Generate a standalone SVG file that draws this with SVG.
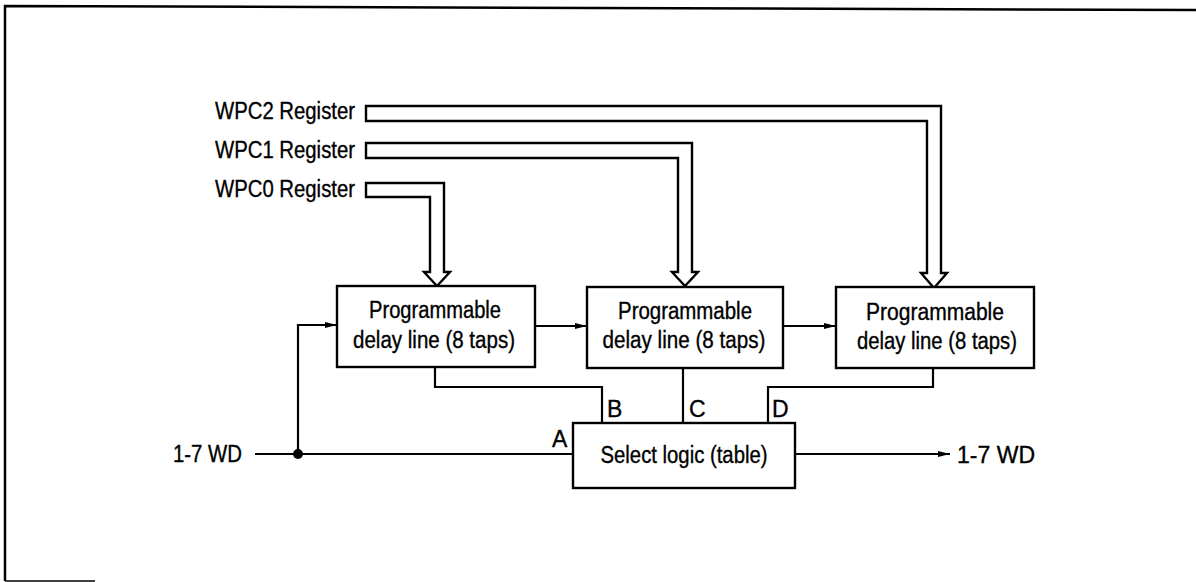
<svg xmlns="http://www.w3.org/2000/svg" width="1196" height="582" viewBox="0 0 1196 582">
<style>
  .box{fill:#fff;stroke:#000;stroke-width:2.4}
  .bus{fill:#fff;stroke:#000;stroke-width:2.4;stroke-linejoin:miter}
  .wire{fill:none;stroke:#000;stroke-width:2.2}
  text{font-family:"Liberation Sans",Arial,sans-serif;font-size:23px;fill:#000;stroke:#000;stroke-width:0.35}
  .mid{text-anchor:middle}
</style>
<defs>
  <marker id="arr" viewBox="0 0 12 8" refX="12" refY="4" markerWidth="12" markerHeight="8" markerUnits="userSpaceOnUse" orient="auto">
    <path d="M0,1 L12,4 L0,7 Z" fill="#000"/>
  </marker>
</defs>
<rect width="1196" height="582" fill="#fff"/>
<g id="frame">
  <path d="M1196,10 L5,6 L5,581" fill="none" stroke="#000" stroke-width="2.5"/>
  <path d="M5,581 L95,581" fill="none" stroke="#000" stroke-width="1.5"/>
</g>
<g id="connectors">
  <path class="bus" d="M366,183 L444,183 L444,272 L450,272 L437,286 L424,272 L430,272 L430,197 L366,197 Z"/>
  <path class="bus" d="M366,143 L692,143 L692,272 L698,272 L685,286 L672,272 L678,272 L678,158 L366,158 Z"/>
  <path class="bus" d="M366,106 L941,106 L941,273 L947,273 L934,288 L921,273 L927,273 L927,121 L366,121 Z"/>
  <path class="wire" d="M255,454 L573,454"/>
  <path class="wire" d="M298,454 L298,325 L337,325" marker-end="url(#arr)"/>
  <circle cx="298" cy="454" r="5" fill="#000"/>
  <path class="wire" d="M535,326 L587,326" marker-end="url(#arr)"/>
  <path class="wire" d="M783,326 L836,326" marker-end="url(#arr)"/>
  <path class="wire" d="M435,367 L435,387 L602,387 L602,423"/>
  <path class="wire" d="M683,368 L683,423"/>
  <path class="wire" d="M933,368 L933,387 L768,387 L768,423"/>
  <path class="wire" d="M795,454 L950,454" marker-end="url(#arr)"/>
</g>
<g id="labels-registers">
  <text x="355" y="119" text-anchor="end" textLength="140" lengthAdjust="spacingAndGlyphs">WPC2 Register</text>
  <text x="355" y="158" text-anchor="end" textLength="140" lengthAdjust="spacingAndGlyphs">WPC1 Register</text>
  <text x="355" y="197" text-anchor="end" textLength="140" lengthAdjust="spacingAndGlyphs">WPC0 Register</text>
</g>
<g id="delay1">
  <rect class="box" x="337" y="286" width="198" height="81"/>
  <text x="435" y="318" class="mid" textLength="132" lengthAdjust="spacingAndGlyphs">Programmable</text>
  <text x="434" y="348" class="mid" textLength="162" lengthAdjust="spacingAndGlyphs">delay line (8 taps)</text>
</g>
<g id="delay2">
  <rect class="box" x="587" y="287" width="196" height="81"/>
  <text x="685" y="319" class="mid" textLength="134" lengthAdjust="spacingAndGlyphs">Programmable</text>
  <text x="684" y="348" class="mid" textLength="163" lengthAdjust="spacingAndGlyphs">delay line (8 taps)</text>
</g>
<g id="delay3">
  <rect class="box" x="836" y="287" width="198" height="81"/>
  <text x="935" y="320" class="mid" textLength="138" lengthAdjust="spacingAndGlyphs">Programmable</text>
  <text x="937" y="349" class="mid" textLength="160" lengthAdjust="spacingAndGlyphs">delay line (8 taps)</text>
</g>
<g id="select">
  <rect class="box" x="573" y="423" width="222" height="65"/>
  <text x="684" y="463" class="mid" textLength="167" lengthAdjust="spacingAndGlyphs">Select logic (table)</text>
</g>
<g id="pin-labels">
  <text x="552" y="447">A</text>
  <text x="607" y="417">B</text>
  <text x="689" y="417">C</text>
  <text x="772" y="417">D</text>
</g>
<g id="io-labels">
  <text x="173" y="462" textLength="69" lengthAdjust="spacingAndGlyphs">1-7 WD</text>
  <text x="957" y="463" textLength="78" lengthAdjust="spacingAndGlyphs">1-7 WD</text>
</g>
</svg>
